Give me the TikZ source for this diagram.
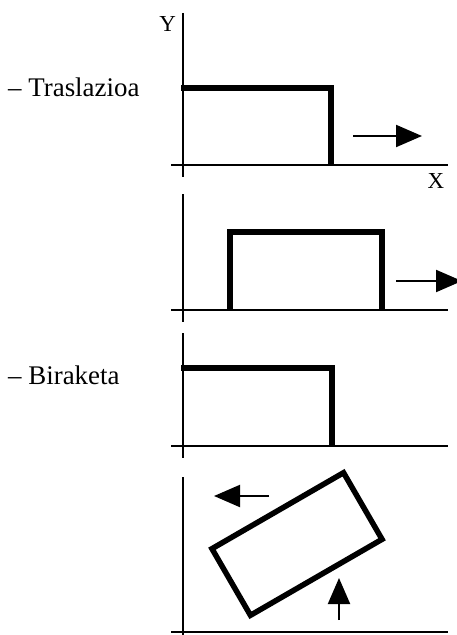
\documentclass[tikz,border=0pt]{standalone}
\usepackage{fontspec}
\setmainfont{Liberation Serif}
\usetikzlibrary{arrows.meta}
\begin{document}
\begin{tikzpicture}[x=1bp,y=-1bp,
  axis/.style={line width=1.9bp},
  boxline/.style={line width=5.5bp},
  move/.style={line width=2bp,-{Triangle[length=26bp,width=22bp]}},
  lbl/.style={font=\fontsize{27}{31}\selectfont,anchor=base west,inner sep=0pt},
  axlbl/.style={font=\fontsize{23}{27}\selectfont,inner sep=0pt}]
\useasboundingbox (0,0) rectangle (457,635);
% panel 1
\draw[axis] (183,13) -- (183,177);
\draw[axis] (171,165) -- (448,165);
\draw[boxline] (181,88) -- (331,88) -- (331,165);
\coordinate (a1s) at (353,136); \coordinate (a1e) at (422,136);
\draw[move] (a1s) -- (a1e);
\node[axlbl,anchor=base east] (ylab) at (176,32) {Y};
\node[axlbl,anchor=base] (xlab) at (436,189) {X};
\node[lbl] (tras) at (8,97) {– Traslazioa};
% panel 2
\draw[axis] (183,194) -- (183,322);
\draw[axis] (171,310) -- (448,310);
\draw[boxline] (230,310) -- (230,232) -- (382,232) -- (382,310);
\coordinate (a2s) at (396,281); \coordinate (a2e) at (462,281);
\draw[move] (a2s) -- (a2e);
% panel 3
\draw[axis] (183,333) -- (183,458);
\draw[axis] (171,446) -- (448,446);
\draw[boxline] (181,368) -- (332,368) -- (332,446);
\node[lbl] (bira) at (8,384) {– Biraketa};
% panel 4
\draw[axis] (183,477) -- (183,636);
\draw[axis] (171,632) -- (448,632);
\draw[boxline] (382.05,539.3) -- (343.55,472.7) -- (211.95,548.7) -- (250.45,615.3) -- cycle;
\coordinate (a3s) at (269,496); \coordinate (a3e) at (214,496);
\draw[move] (a3s) -- (a3e);
\coordinate (a4s) at (339,620); \coordinate (a4e) at (339,578);
\draw[move] (a4s) -- (a4e);
\end{tikzpicture}
\end{document}
